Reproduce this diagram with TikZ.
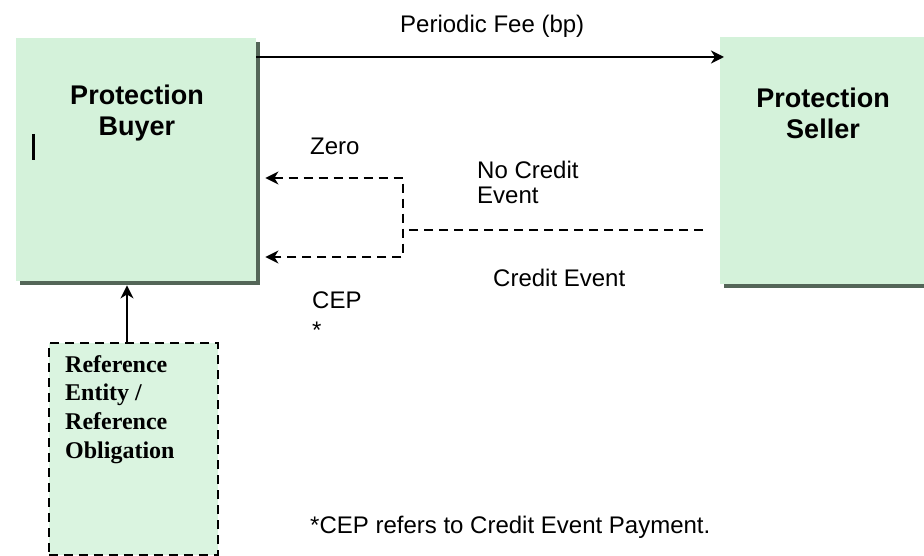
\documentclass[tikz,border=0pt]{standalone}
\usepackage{fontspec}
\setmainfont{Liberation Sans}
\newfontfamily\refserif{Liberation Serif}
\usetikzlibrary{arrows.meta}
\definecolor{boxgreen}{RGB}{212,242,218}
\definecolor{refgreen}{RGB}{218,244,224}
\definecolor{shadowgray}{RGB}{84,102,88}
\begin{document}
\begin{tikzpicture}[x=1pt,y=-1pt,
  partybox/.style={fill=boxgreen, draw=none, inner sep=0pt, anchor=north west},
  shadowbox/.style={fill=shadowgray, draw=none, inner sep=0pt, anchor=north west},
  refbox/.style={fill=refgreen, draw=black, line width=2pt, dash pattern=on 9pt off 6pt, inner sep=0pt, anchor=north west},
  partytext/.style={font=\bfseries\fontsize{27}{31}\selectfont, align=center, inner sep=0pt},
  reftext/.style={font=\refserif\bfseries\fontsize{24}{28.7}\selectfont, align=left, inner sep=0pt, anchor=north west},
  lbl/.style={font=\fontsize{24}{25}\selectfont, inner sep=0pt, anchor=base west},
  tip/.tip={Stealth[length=13pt,width=13pt,inset=4pt]},
  flow/.style={line width=2pt, -tip},
  dflow/.style={line width=2pt, dash pattern=on 9pt off 6pt},
]
\useasboundingbox (0,0) rectangle (924,556);
% boxes
\node[shadowbox, minimum width=240pt, minimum height=243pt] (buyershadow) at (20,42) {};
\node[partybox, minimum width=240pt, minimum height=243pt] (buyer) at (16,38) {};
\node[shadowbox, minimum width=200pt, minimum height=247pt] (sellershadow) at (724,41) {};
\node[partybox, minimum width=204pt, minimum height=247pt] (seller) at (720,37) {};
\node[refbox, minimum width=169pt, minimum height=212pt] (ref) at (48,342) {};
% box texts
\node[partytext] (buyertxt) at (137,113) {Protection\\Buyer};
\node[partytext] (sellertxt) at (823,113) {Protection\\Seller};
\node[reftext] (reftxt) at (65,355) {Reference\\Entity /\\Reference\\Obligation};
\draw[line width=3pt] (33,134) -- (33,160);
% periodic fee
\draw[flow, shorten >=-4pt] ([yshift=-19pt]buyer.north east) -- ([yshift=-20pt]seller.north west);
\node[lbl] (feetxt) at (400,33) {Periodic Fee (bp)};
% dashed payoff
\coordinate (jct) at (403,230);
\coordinate (jend) at (703,230);
\coordinate (ztop) at (403,178);
\coordinate (cbot) at (403,257);
\draw[dflow] (jend) -- (jct);
\draw[dflow, tip-tip, shorten <=9pt, shorten >=9pt] (ztop -| buyer.east) -- (ztop) -- (cbot) -- (cbot -| buyer.east);
\node[lbl] (zerotxt) at (310,155) {Zero};
\node[font=\fontsize{24}{25}\selectfont, inner sep=0pt, align=left, anchor=north west] (nocetxt) at (477,160.5) {No Credit\\Event};
\node[lbl] (cetxt) at (493,287) {Credit Event};
\node[lbl] (ceptxt) at (312,308) {CEP};
\node[lbl] (startxt) at (312,338) {*};
% reference arrow
\draw[flow] ([xshift=-6.5pt]ref.north) -- ([xshift=-6.5pt]ref.north |- buyershadow.south);
% footnote
\node[lbl] (foottxt) at (310,533) {*CEP refers to Credit Event Payment.};
\end{tikzpicture}
\end{document}
